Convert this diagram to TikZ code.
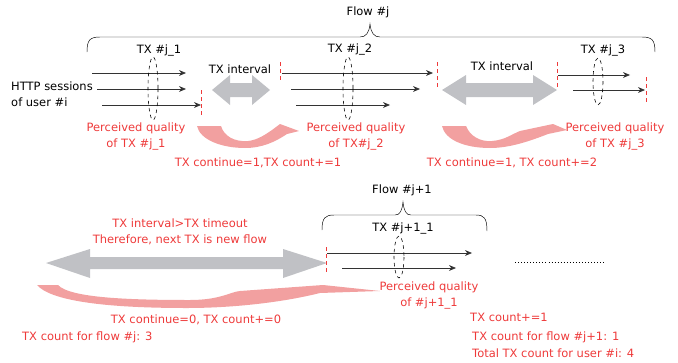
\documentclass[tikz,border=0pt]{standalone}
\usepackage{fontspec}
\setmainfont{DejaVu Sans}
\usetikzlibrary{arrows.meta}
\definecolor{pqred}{RGB}{238,58,58}
\definecolor{bandgray}{RGB}{192,193,197}
\definecolor{hoppink}{RGB}{242,160,160}

\begin{document}
\begin{tikzpicture}[x=0.03cm,y=-0.03cm,>={Stealth[length=6pt,width=5pt]},
  every node/.style={font=\fontsize{9.8}{13.7}\selectfont,inner sep=0pt},
  red label/.style={text=pqred,align=center},
  sess/.style={->,line width=0.6pt,draw=black!80},
  cut/.style={draw=pqred,dashed,line width=0.7pt},
  tx ring/.style={draw,dashed,line width=0.5pt},
  gap arrow/.style={fill=bandgray},
  hop/.style={fill=hoppink}]
\useasboundingbox (0,0) rectangle (678,362);

% flow #j
\node (flowj) at (368,12) {Flow \#j};
\draw (87,52) .. controls (87,40) and (90,37) .. (100,37) -- (360,37)
  .. controls (366,37) and (369,33) .. (370,24) .. controls (371,33) and (374,37) .. (380,37)
  -- (642,37) .. controls (652,37) and (655,40) .. (655,52);
\node (txj1) at (159,50) {TX \#j\_1};
\node (txj2) at (350,49) {TX \#j\_2};
\node (txj3) at (603,50) {TX \#j\_3};
\node[align=left,anchor=west] (http) at (11,94) {HTTP sessions\\of user \#i};

\draw[sess] (92,73) -- (186,73);
\draw[sess] (97,89) -- (186,89);
\draw[sess] (102,105) -- (201,105);
\draw[tx ring] (153,88.5) ellipse [x radius=5, y radius=31.5];
\draw[cut] (201,90) -- (201,117);

\node (gap1) at (240,69) {TX interval};
\fill[gap arrow] (212,90) -- (230,75) -- (230,83) -- (252,83) -- (252,75) -- (270,90)
  -- (252,105) -- (252,97) -- (230,97) -- (230,105) -- cycle;
\draw[cut] (280,62) -- (280,80);

\draw[sess] (282,73) -- (433,73);
\draw[sess] (291,89) -- (420,89);
\draw[sess] (296,105) -- (390,105);
\draw[tx ring] (348,88.5) ellipse [x radius=5, y radius=31.5];
\draw[cut] (437,62) -- (437,90);

\node (gap2) at (502,66) {TX interval};
\fill[gap arrow] (442,90) -- (466,75) -- (466,83) -- (533,83) -- (533,75) -- (557,90)
  -- (533,105) -- (533,97) -- (466,97) -- (466,105) -- cycle;
\draw[cut] (557,62) -- (557,90);

\draw[sess] (558,75) -- (630,75);
\draw[sess] (573,90) -- (645,90);
\draw[tx ring] (598,81.5) ellipse [x radius=5, y radius=23.5];
\draw[cut] (646,77) -- (646,102);

\node[red label] (pq1) at (136,136.5) {Perceived quality\\of TX \#j\_1};
\node[red label] (pq2) at (356,136.5) {Perceived quality\\of TX\#j\_2};
\node[red label] (pq3) at (615,136.5) {Perceived quality\\of TX \#j\_3};

\fill[hop] (197,126) -- (221,126) .. controls (224,136) and (234,142) .. (248,141)
  .. controls (258,140) and (266,134) .. (272,130) -- (280,124) -- (299,131) -- (287,134)
  .. controls (275,142) and (262,148) .. (245,148) .. controls (222,148) and (200,140) .. (197,126) -- cycle;
\fill[hop] (442,126) -- (466,126) .. controls (470,136) and (480,142) .. (492,141)
  .. controls (505,140) and (512,134) .. (520,131) -- (553,124) -- (567,130) -- (548,134)
  .. controls (530,141) and (510,148) .. (490,148) .. controls (465,148) and (445,140) .. (442,126) -- cycle;
\node[red label] (cont1) at (258,163) {TX continue=1,TX count+=1};
\node[red label] (cont2) at (512,163) {TX continue=1, TX count+=2};

% timeout
\node[red label] (timeout) at (180,232) {TX interval>TX timeout\\Therefore, next TX is new flow};
\fill[gap arrow] (46,263) -- (90,249) -- (90,257) -- (283,257) -- (283,249) -- (327,263)
  -- (283,278) -- (283,269) -- (90,269) -- (90,278) -- cycle;
\draw[cut] (326,247) -- (326,275);
\fill[hop] (37,285) -- (58,285) .. controls (70,298) and (130,300) .. (190,300)
  .. controls (220,300) and (230,292) .. (240,291) -- (323,285) -- (380,291) -- (320,293)
  .. controls (280,303) and (230,308) .. (187,308) .. controls (100,308) and (50,300) .. (37,285) -- cycle;
\node[red label] (cont3) at (196,320) {TX continue=0, TX count+=0};
\node[red label,anchor=west] (cntj) at (22,337) {TX count for flow \#j: 3};

% flow #j+1
\node (flowj1) at (402,190) {Flow \#j+1};
\draw (322,230) .. controls (322,218) and (325,215) .. (334,215) -- (395,215)
  .. controls (400,215) and (402,211) .. (403,202) .. controls (404,211) and (406,215) .. (411,215)
  -- (476,215) .. controls (484,215) and (487,218) .. (487,231);
\node (txj11) at (403,228) {TX \#j+1\_1};
\draw[sess] (327,253) -- (472,253);
\draw[sess] (342,268) -- (456,268);
\draw[tx ring] (399,257) ellipse [x radius=5, y radius=21];
\node[red label] (pq4) at (429,295.5) {Perceived quality\\of \#j+1\_1};
\draw[dotted,line width=0.6pt] (515,262) -- (606,262);

\node[red label,anchor=west] (cnt1) at (470,317) {TX count+=1};
\node[red label,anchor=west] (cntj1) at (472,337) {TX count for flow \#j+1: 1};
\node[red label,anchor=west] (total) at (472,353) {Total TX count for user \#i: 4};
\end{tikzpicture}
\end{document}
